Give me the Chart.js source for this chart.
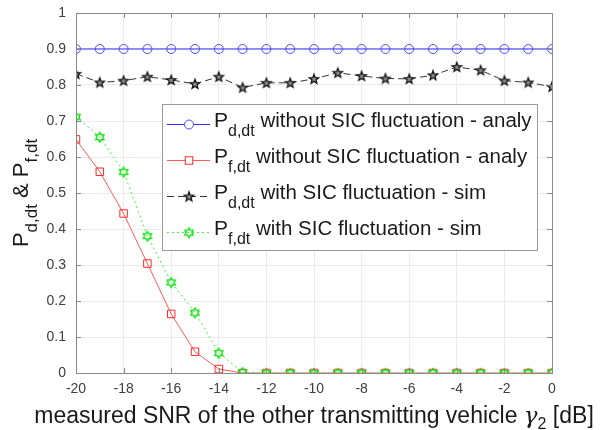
<!DOCTYPE html>
<html>
<head>
<meta charset="utf-8">
<style>
    body { margin: 0; background: #fff; }
    canvas { display: block; }
</style>
</head>
<body>
<canvas id="myChart" width="600" height="430"></canvas>

<script src="https://cdn.jsdelivr.net/npm/chart.js"></script>

<script>

    // SNR of the other transmitting vehicle, dB
    const snrDb = [-20, -19, -18, -17, -16, -15, -14, -13, -12, -11, -10, -9, -8, -7, -6, -5, -4, -3, -2, -1, 0];

    // detection / false alarm probabilities
    const pdNoFluct = [0.9, 0.9, 0.9, 0.9, 0.9, 0.9, 0.9, 0.9, 0.9, 0.9, 0.9, 0.9, 0.9, 0.9, 0.9, 0.9, 0.9, 0.9, 0.9, 0.9, 0.9];
    const pfNoFluct = [0.649, 0.559, 0.443, 0.304, 0.164, 0.059, 0.011, 0, 0, 0, 0, 0, 0, 0, 0, 0, 0, 0, 0, 0, 0];
    const pdFluct = [0.831, 0.807, 0.812, 0.823, 0.814, 0.803, 0.823, 0.793, 0.806, 0.806, 0.817, 0.834, 0.825, 0.818, 0.817, 0.827, 0.850, 0.841, 0.812, 0.807, 0.795];
    const pfFluct = [0.712, 0.656, 0.559, 0.381, 0.252, 0.168, 0.056, 0.002, 0, 0, 0, 0, 0, 0, 0, 0, 0, 0, 0, 0, 0];

    const xTicks = [-20, -18, -16, -14, -12, -10, -8, -6, -4, -2, 0];

    const legendItems = [
        {sub: 'd,dt', text: 'without SIC fluctuation - analy'},
        {sub: 'f,dt', text: 'without SIC fluctuation - analy'},
        {sub: 'd,dt', text: 'with SIC fluctuation - sim'},
        {sub: 'f,dt', text: 'with SIC fluctuation - sim'}
    ];

    const FONT = '"Liberation Sans", Arial, sans-serif';

    // pentagram / hexagram markers (matlab style), drawn once on small canvases
    function makeMarker(kind, color) {
        const c = document.createElement('canvas');
        c.width = 14; c.height = 14;
        const g = c.getContext('2d');
        g.strokeStyle = color;
        g.lineWidth = 1;
        g.lineJoin = 'miter';
        const cx = 7, cy = 7.3;
        g.beginPath();
        if (kind === 'penta') {
            const R = 5, r = 2.1;
            for (let i = 0; i < 10; i++) {
                const a = -Math.PI / 2 + i * Math.PI / 5;
                const rad = i % 2 === 0 ? R : r;
                const px = cx + rad * Math.cos(a), py = cy + rad * Math.sin(a);
                if (i === 0) g.moveTo(px, py); else g.lineTo(px, py);
            }
            g.closePath();
            g.fillStyle = '#8c8c8c';
            g.fill();
            g.lineWidth = 1.2;
        } else {
            const R = 4.8, r = 2.8;
            for (let i = 0; i < 12; i++) {
                const a = -Math.PI / 2 + i * Math.PI / 6;
                const rad = i % 2 === 0 ? R : r;
                const px = cx + rad * Math.cos(a), py = cy + rad * Math.sin(a);
                if (i === 0) g.moveTo(px, py); else g.lineTo(px, py);
            }
            g.closePath();
            g.lineWidth = 1.3;
        }
        g.stroke();
        return c;
    }

    const pentaImg = makeMarker('penta', '#111111');
    const hexaImg = makeMarker('hexa', '#00e000');

    function pts(ys) {
        return snrDb.map((x, i) => ({x: x, y: ys[i]}));
    }

    // text pieces (main text + subscripts) laid out along one baseline
    function richWidth(ctx, parts) {
        let w = 0;
        for (const p of parts) { ctx.font = p.font; w += ctx.measureText(p.t).width; }
        return w;
    }
    function drawRich(ctx, parts, x, y) {
        ctx.textAlign = 'left';
        ctx.textBaseline = 'alphabetic';
        for (const p of parts) {
            ctx.font = p.font;
            ctx.fillText(p.t, x, y + (p.dy || 0));
            x += ctx.measureText(p.t).width;
        }
        return x;
    }

    const frameAndLabels = {
        id: 'frameAndLabels',
        afterDatasetsDraw(chart) {
            const ctx = chart.ctx;
            const a = chart.chartArea;
            const xs = chart.scales.x, ys = chart.scales.y;
            ctx.save();

            // box round the axes, inward ticks on all four sides
            ctx.strokeStyle = '#8a8a8a';
            ctx.lineWidth = 1;
            ctx.strokeRect(Math.round(a.left) + 0.5, Math.round(a.top) + 0.5,
                Math.round(a.right - a.left), Math.round(a.bottom - a.top));
            ctx.beginPath();
            for (const v of xTicks) {
                const px = Math.round(xs.getPixelForValue(v)) + 0.5;
                ctx.moveTo(px, a.bottom); ctx.lineTo(px, a.bottom - 5);
                ctx.moveTo(px, a.top); ctx.lineTo(px, a.top + 5);
            }
            for (let k = 0; k <= 10; k++) {
                const py = Math.round(ys.getPixelForValue(k / 10)) + 0.5;
                ctx.moveTo(a.left, py); ctx.lineTo(a.left + 5, py);
                ctx.moveTo(a.right, py); ctx.lineTo(a.right - 5, py);
            }
            ctx.stroke();

            // legend
            const lx = 162, ly = 104, lw = 375, lh = 146;
            ctx.fillStyle = '#ffffff';
            ctx.fillRect(lx, ly, lw, lh);
            ctx.strokeStyle = '#9a9a9a';
            ctx.strokeRect(lx + 0.5, ly + 0.5, lw, lh);

            chart.data.datasets.forEach((ds, i) => {
                const base = 127 + 36 * i;
                const my = base - 2.5;
                ctx.save();
                ctx.strokeStyle = ds.borderColor;
                ctx.lineWidth = 1;
                ctx.setLineDash(ds.borderDash || []);
                ctx.beginPath();
                ctx.moveTo(167, my); ctx.lineTo(210, my);
                ctx.stroke();
                ctx.setLineDash([]);
                const mx = 189;
                if (ds.pointStyle === 'circle') {
                    ctx.fillStyle = '#fff';
                    ctx.beginPath(); ctx.arc(mx, my, ds.pointRadius, 0, Math.PI * 2);
                    ctx.fill(); ctx.strokeStyle = ds.pointBorderColor; ctx.stroke();
                } else if (ds.pointStyle === 'rect') {
                    const s = ds.pointRadius * Math.SQRT1_2;
                    ctx.fillStyle = '#fff';
                    ctx.fillRect(mx - s, my - s, 2 * s, 2 * s);
                    ctx.strokeStyle = ds.pointBorderColor;
                    ctx.strokeRect(mx - s, my - s, 2 * s, 2 * s);
                } else {
                    const img = ds.pointStyle;
                    ctx.drawImage(img, mx - img.width / 2, my - img.height / 2);
                }
                ctx.restore();

                ctx.fillStyle = '#1a1a1a';
                const it = legendItems[i];
                drawRich(ctx, [
                    {t: 'P', font: '21px ' + FONT},
                    {t: it.sub, font: '16px ' + FONT, dy: 9},
                    {t: ' ' + it.text, font: '20.5px ' + FONT}
                ], 214, base);
            });

            // y axis title, rotated
            const yParts = [
                {t: 'P', font: '22px ' + FONT},
                {t: 'd,dt', font: '17px ' + FONT, dy: 9},
                {t: ' & ', font: '22px ' + FONT},
                {t: 'P', font: '22px ' + FONT},
                {t: 'f,dt', font: '17px ' + FONT, dy: 9}
            ];
            ctx.fillStyle = '#1a1a1a';
            ctx.save();
            ctx.translate(28, (a.top + a.bottom) / 2);
            ctx.rotate(-Math.PI / 2);
            drawRich(ctx, yParts, -richWidth(ctx, yParts) / 2, 0);
            ctx.restore();

            // x axis title
            const xParts = [
                {t: 'measured SNR of the other transmitting vehicle ', font: '23px ' + FONT},
                {t: 'γ', font: 'italic 23px "DejaVu Serif", serif'},
                {t: '2', font: '16px ' + FONT, dy: 6},
                {t: ' [dB]', font: '23px ' + FONT}
            ];
            drawRich(ctx, xParts, (a.left + a.right) / 2 - richWidth(ctx, xParts) / 2, 423);

            ctx.restore();
        }
    };

    const ctx = document.getElementById('myChart');
    const chart = new Chart(ctx, {
        type: 'line',
        data: {
            datasets: [{
                label: 'Pd,dt without SIC fluctuation - analy',
                data: pts(pdNoFluct),
                borderColor: '#2a2aff',
                borderWidth: 1,
                pointStyle: 'circle',
                pointRadius: 4.5,
                pointBorderColor: '#4a4aff',
                pointBackgroundColor: 'rgba(0,0,0,0)',
                pointBorderWidth: 1,
                order: 4
            }, {
                label: 'Pf,dt without SIC fluctuation - analy',
                data: pts(pfNoFluct),
                borderColor: '#ff5a5a',
                borderWidth: 1,
                pointStyle: 'rect',
                pointRadius: 5.3,
                pointBorderColor: '#ff2a2a',
                pointBackgroundColor: 'rgba(0,0,0,0)',
                pointBorderWidth: 1,
                order: 3
            }, {
                label: 'Pd,dt with SIC fluctuation - sim',
                data: pts(pdFluct),
                borderColor: '#333333',
                borderWidth: 1,
                borderDash: [7, 4],
                pointStyle: pentaImg,
                pointRadius: 5,
                order: 2
            }, {
                label: 'Pf,dt with SIC fluctuation - sim',
                data: pts(pfFluct),
                borderColor: '#44ee44',
                borderWidth: 1,
                borderDash: [2, 3],
                pointStyle: hexaImg,
                pointRadius: 5,
                order: 1
            }]
        },
        options: {
            responsive: false,
            animation: false,
            layout: {padding: {left: 0, top: 13, right: 48, bottom: 0}},
            plugins: {
                legend: {display: false},
                tooltip: {enabled: false}
            },
            elements: {line: {tension: 0}},
            scales: {
                x: {
                    type: 'linear',
                    min: -20,
                    max: 0,
                    afterBuildTicks: (scale) => { scale.ticks = xTicks.map(v => ({value: v})); },
                    afterFit: (scale) => {
                        scale.height = 57;
                        scale.paddingLeft = 0;
                        scale.paddingRight = 0;
                    },
                    grid: {color: '#ebebeb', drawTicks: false},
                    border: {display: false},
                    ticks: {
                        padding: 8,
                        maxRotation: 0,
                        color: '#404040',
                        font: {family: FONT, size: 14},
                        callback: (v) => String(v)
                    }
                },
                y: {
                    min: 0,
                    max: 1,
                    afterBuildTicks: (scale) => {
                        const t = [];
                        for (let k = 0; k <= 10; k++) t.push({value: k / 10});
                        scale.ticks = t;
                    },
                    afterFit: (scale) => {
                        scale.width = 76;
                        scale.paddingTop = 0;
                        scale.paddingBottom = 0;
                    },
                    grid: {color: '#ebebeb', drawTicks: false},
                    border: {display: false},
                    ticks: {
                        padding: 10,
                        color: '#404040',
                        font: {family: FONT, size: 14},
                        callback: (v) => (v === 0 ? '0' : v === 1 ? '1' : v.toFixed(1))
                    }
                }
            }
        },
        plugins: [frameAndLabels]
    });

</script>
</body>
</html>
